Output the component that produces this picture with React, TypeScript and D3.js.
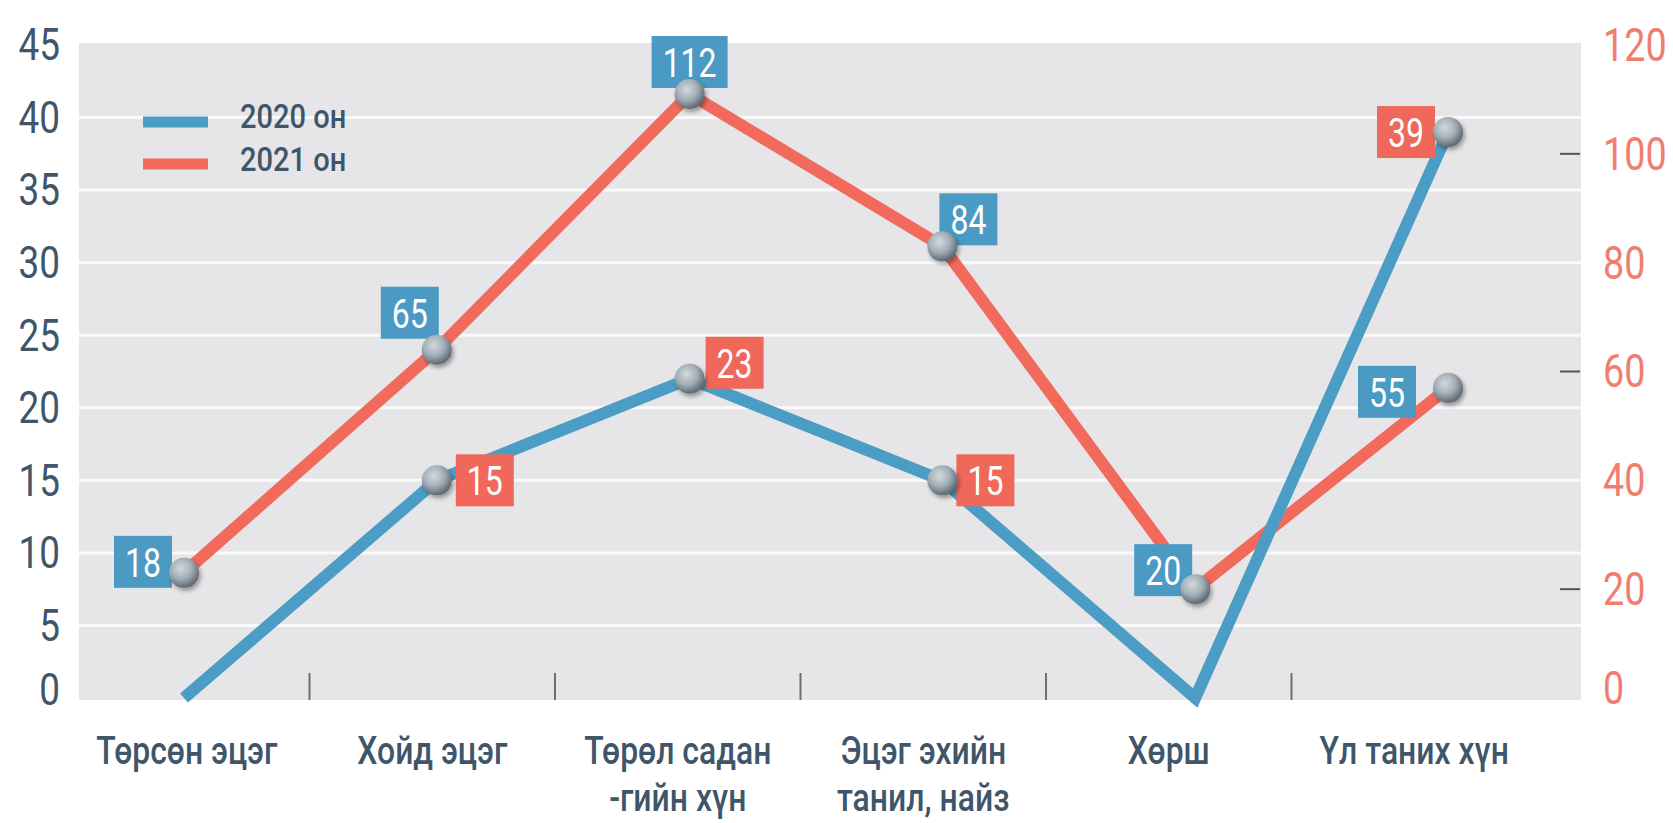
import React from "react";
import * as d3 from "d3";

// ---- data ----
const categories = [
  "Төрсөн эцэг",
  "Хойд эцэг",
  "Төрөл садан\n-гийн хүн",
  "Эцэг эхийн\nтанил, найз",
  "Хөрш",
  "Үл таних хүн",
];
const leftTicks = [0, 5, 10, 15, 20, 25, 30, 35, 40, 45];
const rightTicks = [0, 20, 40, 60, 80, 100, 120];
const rightTickMarks = [20, 60, 100];

// 2020 он – left axis
const values2020 = [0, 15, 22, 15, 0, 39];
const labels2020 = ["", "15", "23", "15", "", "39"];
// 2021 он – right axis
const values2021 = [23, 64, 111, 83, 20, 57];
const labels2021 = ["18", "65", "112", "84", "20", "55"];

// ---- styles ----
const W = 1673;
const H = 823;
const BLUE = "#4b9dc6";
const RED = "#f26a5b";
const BOX_BLUE = "#4a9ac4";
const BOX_RED = "#f0685a";
const DARK = "#3e556a";
const SALMON = "#f07d6f";
const FONT = "Roboto, 'Noto Sans', sans-serif";

// label placement (offset of box centre from point)
const place2020 = [null, [48, 0], [45, -16], [43, 0], null, [-42, 0]];
const place2021 = [[-41, -11], [-27, -37], [0, -32], [26, -27], [-32, -19], [-61, 4]];

const plot = { left: 79, right: 1581, top: 45, bottom: 698 };

function CText({ x, y, size, fill, anchor = "start", sx = 0.82, weight = 400, children }: any) {
  return (
    <g transform={`translate(${x},${y}) scale(${sx},1)`}>
      <text
        textAnchor={anchor}
        dominantBaseline="central"
        fontSize={size}
        fill={fill}
        fontFamily={FONT}
        fontWeight={weight}
      >
        {children}
      </text>
    </g>
  );
}

export default function App() {
  const yL = d3.scaleLinear().domain([0, 45]).range([plot.bottom, plot.top]);
  const yR = d3.scaleLinear().domain([0, 120]).range([plot.bottom, plot.top]);
  const xBand = d3.scaleBand().domain(categories).range([64, 1537]).padding(0);
  const xPt = d3.scalePoint().domain(categories).range([184, 1448]);

  const line2020 = d3
    .line<number>()
    .x((_, i) => xPt(categories[i])!)
    .y((d) => yL(d));
  const line2021 = d3
    .line<number>()
    .x((_, i) => xPt(categories[i])!)
    .y((d) => yR(d));

  const boxes: any[] = [];
  values2021.forEach((v, i) => {
    const p = place2021[i];
    if (!p || !labels2021[i]) return;
    boxes.push({ x: xPt(categories[i])! + p[0], y: yR(v) + p[1], t: labels2021[i], c: BOX_BLUE });
  });
  values2020.forEach((v, i) => {
    const p = place2020[i];
    if (!p || !labels2020[i]) return;
    boxes.push({ x: xPt(categories[i])! + p[0], y: yL(v) + p[1], t: labels2020[i], c: BOX_RED });
  });

  const points: any[] = [];
  values2021.forEach((v, i) => points.push({ x: xPt(categories[i])!, y: yR(v) }));
  values2020.forEach((v, i) => {
    if (labels2020[i]) points.push({ x: xPt(categories[i])!, y: yL(v) });
  });

  return (
    <svg
      width={W}
      height={H}
      style={{ position: "absolute", left: 0, top: 0, background: "#fff" }}
    >
      <defs>
        <radialGradient id="ball" cx="0.4" cy="0.35" r="0.7">
          <stop offset="0" stopColor="#d3dade" />
          <stop offset="0.5" stopColor="#a2aeb8" />
          <stop offset="1" stopColor="#525d66" />
        </radialGradient>
        <filter id="shadow" x="-50%" y="-50%" width="200%" height="200%">
          <feDropShadow dx="2" dy="3" stdDeviation="2" floodColor="#000" floodOpacity="0.35" />
        </filter>
      </defs>

      {/* plot background */}
      <rect
        x={plot.left}
        y={plot.top - 2}
        width={plot.right - plot.left}
        height={plot.bottom - plot.top + 4}
        fill="#e6e6e8"
      />
      {/* gridlines */}
      {leftTicks
        .filter((t) => t > 0 && t < 45)
        .map((t) => (
          <line
            key={"g" + t}
            x1={plot.left}
            x2={plot.right}
            y1={yL(t)}
            y2={yL(t)}
            stroke="#fafafa"
            strokeWidth={3}
          />
        ))}

      {/* category separators */}
      {categories.slice(1).map((c) => (
        <line
          key={"s" + c}
          x1={xBand(c)!}
          x2={xBand(c)!}
          y1={plot.bottom - 25}
          y2={plot.bottom + 2}
          stroke="#6f6f6f"
          strokeWidth={2}
        />
      ))}

      {/* right tick marks */}
      {rightTickMarks.map((t) => (
        <line
          key={"rt" + t}
          x1={plot.right - 21}
          x2={plot.right - 1}
          y1={yR(t)}
          y2={yR(t)}
          stroke="#555"
          strokeWidth={2}
        />
      ))}

      {/* left axis labels */}
      {leftTicks.map((t) => (
        <CText key={"l" + t} x={60} y={yL(t) - (t === 0 ? 8 : 0)} size={45} fill={DARK} anchor="end">
          {t}
        </CText>
      ))}
      {/* right axis labels */}
      {rightTicks.map((t) => (
        <CText key={"r" + t} x={1603} y={yR(t) - (t === 0 ? 10 : 0)} size={46} fill={SALMON}>
          {t}
        </CText>
      ))}

      {/* category labels */}
      {categories.map((c) => {
        const lines = c.split("\n");
        const cx = xBand(c)! + xBand.bandwidth() / 2;
        return lines.map((ln, j) => (
          <CText key={c + j} x={cx} y={751 + j * 47} size={38} fill={DARK} anchor="middle" sx={0.84} weight={500}>
            {ln}
          </CText>
        ));
      })}

      {/* legend */}
      <line x1={143} x2={208} y1={122} y2={122} stroke={BLUE} strokeWidth={11} />
      <line x1={143} x2={208} y1={164} y2={164} stroke={RED} strokeWidth={11} />
      <CText x={240} y={117} size={33} fill={DARK} sx={0.88} weight={500}>
        2020 он
      </CText>
      <CText x={240} y={160} size={33} fill={DARK} sx={0.88} weight={500}>
        2021 он
      </CText>

      {/* lines */}
      <path d={line2021(values2021)!} fill="none" stroke={RED} strokeWidth={12} strokeLinejoin="miter" />
      <path d={line2020(values2020)!} fill="none" stroke={BLUE} strokeWidth={12} strokeLinejoin="miter" />

      {/* label boxes */}
      {boxes.map((b, i) => {
        const w = b.t.length * 18 + 22;
        const h = 52;
        return (
          <g key={"b" + i}>
            <rect x={b.x - w / 2} y={b.y - h / 2} width={w} height={h} fill={b.c} />
            <CText x={b.x} y={b.y + 1} size={40} fill="#fff" anchor="middle" sx={0.8}>
              {b.t}
            </CText>
          </g>
        );
      })}

      {/* markers */}
      {points.map((p, i) => (
        <circle key={"p" + i} cx={p.x} cy={p.y} r={15} fill="url(#ball)" filter="url(#shadow)" />
      ))}
    </svg>
  );
}
